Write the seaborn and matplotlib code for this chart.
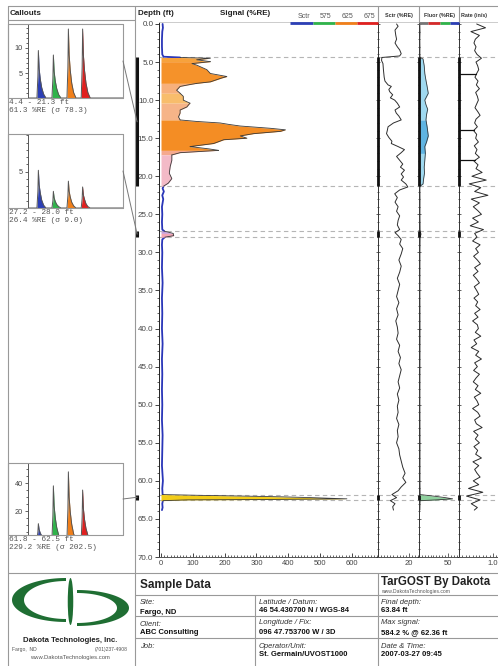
import numpy as np
import matplotlib
matplotlib.use("Agg")
import matplotlib.pyplot as plt
import seaborn as sns
from matplotlib.patches import Rectangle, Polygon, Ellipse, ConnectionPatch
from matplotlib.ticker import MultipleLocator, FixedLocator, FormatStrFormatter

# ---------------- data ----------------
main_depth = [0.0, 0.5, 1.0, 2.0, 3.0, 4.0, 4.3, 4.4, 4.5, 4.7,
              4.95, 5.2, 5.4, 5.7, 6.0, 6.5, 6.9, 7.1, 7.3, 7.6,
              7.8, 8.0, 8.2, 8.7, 9.1, 9.5, 10.0, 10.4, 10.9, 11.3,
              11.7, 12.2, 12.6, 12.8, 13.0, 13.2, 13.4, 13.7, 13.9, 14.1,
              14.4, 14.7, 15.0, 15.2, 15.5, 15.7, 16.1, 16.4, 16.6, 16.9,
              17.2, 17.9, 18.7, 19.6, 20.3, 20.9, 21.3, 21.6, 22.0, 22.5,
              23.0, 24.0, 25.0, 26.0, 27.0, 27.2, 27.5, 27.8, 28.0, 28.3,
              29.0, 30.0, 32.0, 34.0, 36.0, 38.0, 40.0, 42.0, 44.0, 46.0,
              48.0, 50.0, 52.0, 54.0, 56.0, 58.0, 60.0, 61.0, 61.8, 61.9,
              62.0, 62.1, 62.2, 62.36, 62.45, 62.5, 62.6, 63.0, 63.5, 63.84]
main_signal = [5, 6, 4, 3, 3, 4, 8, 60, 155, 112,
               155, 97, 112, 128, 144, 155, 207, 190, 176, 155,
               112, 85, 60, 49, 60, 70, 70, 91, 81, 60,
               60, 55, 60, 112, 186, 215, 249, 344, 391, 375,
               291, 249, 270, 197, 178, 165, 91, 150, 181, 60,
               34, 34, 29, 26, 34, 23, 8, 5, 9, 4,
               7, 3, 4, 3, 4, 10, 38, 40, 12, 4,
               3, 4, 3, 5, 3, 4, 3, 5, 3, 4,
               3, 4, 3, 5, 4, 3, 6, 4, 5, 120,
               260, 380, 470, 584, 320, 80, 6, 4, 5, 3]

sctr_depth = [0.0, 0.3, 0.8, 1.5, 2.0, 2.5, 3.0, 3.4, 3.9, 4.2,
              4.4, 4.8, 5.2, 6.0, 7.0, 7.5, 8.0, 8.2, 8.6, 8.9,
              9.3, 9.7, 10.0, 10.4, 10.9, 11.3, 11.7, 12.1, 12.6, 13.0,
              13.5, 14.0, 14.4, 14.9, 15.4, 15.7, 16.1, 16.5, 16.9, 17.4,
              17.9, 18.4, 18.8, 19.2, 19.7, 20.1, 20.5, 21.0, 21.4, 21.8,
              22.3, 22.8, 23.4, 24.0, 24.6, 25.2, 25.8, 26.4, 27.0, 27.4,
              27.8, 28.3, 28.9, 29.5, 30.2, 31.0, 31.8, 32.6, 33.4, 34.2,
              35.0, 35.8, 36.6, 37.4, 38.2, 39.0, 39.8, 40.6, 41.4, 42.2,
              43.0, 43.8, 44.6, 45.4, 46.2, 47.0, 47.8, 48.6, 49.4, 50.2,
              51.0, 51.8, 52.6, 53.4, 54.2, 55.0, 55.8, 56.6, 57.4, 58.2,
              59.0, 59.6, 60.2, 60.8, 61.3, 61.8, 62.2, 62.6, 63.0, 63.4,
              63.84]
sctr_val = [12, 13, 11, 11.5, 12, 11, 12.5, 14, 15, 14,
            2.5, 2.3, 3.2, 3.5, 4.0, 4.5, 6.5, 8.6, 7.0, 7.6,
            9.5, 8.0, 10.8, 12.5, 14, 11, 11.8, 13.5, 15, 10,
            6.5, 6, 5.5, 7, 9, 8.6, 13, 17.1, 15, 12,
            14, 16, 14.5, 17.1, 15, 16.5, 15, 18, 19.3, 14,
            10.8, 12.5, 11, 13, 12, 14, 13, 12.5, 14, 11,
            13, 15, 14, 16, 15, 13.5, 15, 14, 12.5, 14,
            13, 12, 13.5, 12, 13, 11.5, 12.5, 13, 12, 14,
            13, 14.5, 13.5, 15, 14, 13, 14, 12.5, 13.5, 12.5,
            13, 12, 13.5, 12.5, 13, 12, 13.5, 14, 15, 16,
            17.5, 16, 18, 15, 13, 9, 12, 8, 11, 9.5,
            10]

fluor_depth = [0.0, 1.0, 2.0, 3.0, 4.0, 4.4, 4.6, 5.5, 6.5, 7.4,
               8.2, 9.1, 10.0, 10.6, 11.2, 11.9, 12.6, 13.5, 14.7, 15.5,
               16.1, 17.0, 17.9, 18.8, 19.6, 20.3, 21.0, 21.3, 21.6, 23.0,
               25.0, 27.2, 27.6, 28.0, 30.0, 35.0, 40.0, 45.0, 50.0, 55.0,
               60.0, 61.8, 62.0, 62.2, 62.36, 62.5, 62.6, 63.0, 63.84]
fluor_val = [1.5, 1.8, 1.5, 1.7, 1.6, 2.0, 7, 9, 10, 12,
             14, 16, 10, 12, 15, 13, 12, 14, 16, 13,
             10, 11, 10, 9, 9.5, 8, 7, 2.0, 1.6, 1.8,
             1.7, 2.0, 3.5, 2.0, 1.7, 1.6, 1.8, 1.7, 1.6, 1.8,
             1.7, 2.0, 25, 45, 58, 30, 2.0, 1.8, 1.6]

rate_depth = np.append(np.arange(0, 64, 0.5), 63.84)
rate_val = [0.52, 0.78, 0.35, 0.60, 0.48, 0.44, 0.50, 0.46, 0.53, 0.66,
            0.50, 0.55, 0.58, 0.52, 0.47, 0.56, 0.51, 0.60, 0.49, 0.54,
            0.57, 0.52, 0.47, 0.55, 0.62, 0.50, 0.46, 0.54, 0.43, 0.52,
            0.49, 0.57, 0.45, 0.53, 0.48, 0.60, 0.44, 0.56, 0.50, 0.68,
            0.38, 0.80, 0.30, 0.64, 0.46, 0.85, 0.36, 0.60, 0.42, 0.55,
            0.66, 0.40, 0.57, 0.33, 0.72, 0.46, 0.53, 0.40, 0.62, 0.49,
            0.57, 0.43, 0.54, 0.63, 0.46, 0.56, 0.42, 0.52, 0.60, 0.45,
            0.52, 0.58, 0.44, 0.55, 0.49, 0.62, 0.46, 0.56, 0.40, 0.54,
            0.57, 0.48, 0.64, 0.44, 0.52, 0.36, 0.58, 0.49, 0.66, 0.46,
            0.54, 0.43, 0.60, 0.50, 0.42, 0.56, 0.48, 0.64, 0.45, 0.53,
            0.58, 0.40, 0.55, 0.62, 0.46, 0.51, 0.68, 0.43, 0.56, 0.48,
            0.60, 0.44, 0.55, 0.49, 0.66, 0.41, 0.58, 0.46, 0.53, 0.62,
            0.42, 0.58, 0.28, 0.70, 0.22, 0.62, 0.36, 0.54,
            0.45]
rate_rod_depths = [6.6, 13.9, 17.9]

callout_ranges = [(4.4, 21.3), (27.2, 28.0), (61.8, 62.5)]
callout_mean = [61.3, 26.4, 229.2]
callout_sd = [78.3, 9.0, 202.5]

wave_t = [0,
          9.4, 10.4, 10.9, 11.7, 12.9, 14.4, 16.4, 18.9,
          25.2, 26.2, 26.7, 27.5, 28.7, 30.2, 32.2, 34.7,
          41.0, 42.0, 42.5, 43.3, 44.5, 46.0, 48.0, 50.5,
          56.0, 57.0, 57.5, 58.3, 59.5, 61.0, 63.0, 65.5,
          100]
callout1_amp = [0,
                0, 4.3, 9.5, 5.9, 3.8, 2.1, 0.8, 0,
                0, 3.9, 8.6, 5.3, 3.4, 1.9, 0.7, 0,
                0, 6.2, 13.8, 8.6, 5.5, 3.0, 1.1, 0,
                0, 6.2, 13.8, 8.6, 5.5, 3.0, 1.1, 0,
                0]
callout2_amp = [0,
                0, 2.3, 5.2, 3.2, 2.1, 1.1, 0.4, 0,
                0, 1.0, 2.3, 1.4, 0.9, 0.5, 0.2, 0,
                0, 1.7, 3.7, 2.3, 1.5, 0.8, 0.3, 0,
                0, 1.3, 2.9, 1.8, 1.2, 0.6, 0.2, 0,
                0]
callout3_amp = [0,
                0, 5.0, 11, 6.8, 4.4, 2.4, 0.9, 0,
                0, 17, 38, 23.6, 15.2, 8.4, 3.0, 0,
                0, 21.6, 48, 29.8, 19.2, 10.6, 3.8, 0,
                0, 15.8, 35, 21.7, 14, 7.7, 2.8, 0,
                0]

main_xticks = [0, 100, 200, 300, 400, 500, 600]
legend_labels = ["Sctr", "575", "625", "675"]

# ---------------- styling ----------------
sns.set_theme(style="white")
plt.rcParams['font.family'] = ['Liberation Sans', 'DejaVu Sans']
plt.rcParams['axes.linewidth'] = 0.7

W, H = 498, 666
fig = plt.figure(figsize=(W / 100, H / 100), dpi=100, facecolor='white')


def ax_px(x0, y0, x1, y1, z=2):
    a = fig.add_axes([x0 / W, 1 - y1 / H, (x1 - x0) / W, (y1 - y0) / H], zorder=z)
    a.set_facecolor('none')
    return a


BLUE = '#2a36b8'
CH_COLORS = ['#2c3fb5', '#2fb34a', '#f07f1a', '#e0201f']
TOP, BOT = 22, 557
YLIM = (70, -0.26)
GRID = '#b5b5b5'

# ---------------- main signal track ----------------
ax = ax_px(159, TOP, 378, BOT)
d = np.array(main_depth, dtype=float)
s = np.array(main_signal, dtype=float)

interior = np.zeros(len(d), dtype=bool)
for a0, b0 in [(4.4, 21.3), (27.2, 28.0), (61.8, 62.6)]:
    interior |= (d > a0) & (d < b0)
idx = np.where(~interior)[0]
runs = np.split(idx, np.where(np.diff(idx) != 1)[0] + 1)
for r in runs:
    if len(r) > 1:
        sns.lineplot(x=s[r], y=d[r], orient='y', sort=False, estimator=None,
                     color=BLUE, lw=1.3, ax=ax, zorder=2)

bands = [(4.4, 4.95, '#f7a23c'), (4.95, 7.8, '#f5922a'), (7.8, 9.1, '#f7b07c'),
         (9.1, 10.4, '#f8bd6c'), (10.4, 12.6, '#f6b488'), (12.6, 16.6, '#f48d24'),
         (16.6, 17.2, '#f5a98e'), (17.2, 21.3, '#f3bac7'), (27.2, 27.5, '#c7a0d9'),
         (27.5, 28.0, '#f2a6b6'), (61.8, 62.6, '#f2cc18')]
for d0, d1, c in bands:
    m = (d >= d0) & (d <= d1)
    ax.fill_betweenx(d[m], 0, s[m], color=c, lw=0, zorder=3)
    sns.lineplot(x=s[m], y=d[m], orient='y', sort=False, estimator=None,
                 color='#3a3a3a', lw=0.6, ax=ax, zorder=4)
ax.set_xlim(-6.3, 681.7)
ax.set_ylim(*YLIM)
ax.set_xlabel('')
ax.set_ylabel('')
ax.yaxis.set_major_locator(MultipleLocator(5))
ax.yaxis.set_minor_locator(MultipleLocator(1))
ax.yaxis.set_major_formatter(FormatStrFormatter('%.1f'))
ax.tick_params(axis='y', which='major', left=True, length=3, width=0.6,
               labelsize=5.8, labelcolor='#444', pad=1)
ax.tick_params(axis='y', which='minor', left=True, length=1.5, width=0.5)
ax.xaxis.set_major_locator(FixedLocator(main_xticks))
ax.xaxis.set_minor_locator(MultipleLocator(10))
ax.tick_params(axis='x', which='major', bottom=True, direction='in', length=3,
               width=0.6, labelsize=5.5, labelcolor='#444', pad=2)
ax.tick_params(axis='x', which='minor', bottom=True, direction='in', length=1.5, width=0.5)
ax.spines['left'].set_color('#222')
ax.spines['bottom'].set_color('#555')
ax.spines['top'].set_color('#cccccc')
ax.spines['right'].set_visible(False)

# ---------------- side tracks ----------------
ax_s = ax_px(378, TOP, 419, BOT)
ax_f = ax_px(419, TOP, 459, BOT)
ax_r = ax_px(459, TOP, 510, BOT)

sns.lineplot(x=sctr_val, y=sctr_depth, orient='y', sort=False, estimator=None,
             color='#2e2e2e', lw=0.7, ax=ax_s, zorder=3)
ax_s.set_xlim(0, 26.5)

fd = np.array(fluor_depth, dtype=float)
fv = np.array(fluor_val, dtype=float)
fbands = [(4.4, 12.6, '#9fd9f0'), (12.6, 17.0, '#5fb4e2'), (17.0, 21.3, '#9fd9f0'),
          (61.8, 62.6, '#8fd19e')]
for d0, d1, c in fbands:
    m = (fd >= d0) & (fd <= d1)
    ax_f.fill_betweenx(fd[m], 0, fv[m], color=c, lw=0, zorder=2)
sns.lineplot(x=fv, y=fd, orient='y', sort=False, estimator=None,
             color='#3a3a3a', lw=0.6, ax=ax_f, zorder=3)
ax_f.set_xlim(0, 69)

rv = np.array(rate_val, dtype=float)
sns.lineplot(x=rv, y=rate_depth, orient='y', sort=False, estimator=None,
             color='#2a2a2a', lw=0.7, ax=ax_r, zorder=3)
for rd in rate_rod_depths:
    ax_r.plot([0, np.interp(rd, rate_depth, rv)], [rd, rd], color='#111', lw=0.9, zorder=3)
ax_r.set_xlim(0, 1.5)

for axx, tick, minor, lab in ((ax_s, 20, 2, '20'), (ax_f, 50, 5, '50'), (ax_r, 1.0, 0.1, '1.0')):
    axx.set_ylim(*YLIM)
    axx.set_xlabel('')
    axx.set_ylabel('')
    axx.yaxis.set_major_locator(MultipleLocator(5))
    axx.yaxis.set_minor_locator(MultipleLocator(1))
    axx.tick_params(axis='y', which='major', left=True, direction='inout', length=3,
                    width=0.5, labelleft=False)
    axx.tick_params(axis='y', which='minor', left=True, direction='inout', length=2,
                    width=0.5)
    axx.set_xticks([tick])
    axx.set_xticklabels([lab])
    axx.xaxis.set_minor_locator(MultipleLocator(minor))
    axx.tick_params(axis='x', which='major', bottom=True, direction='in', length=3,
                    width=0.5, labelsize=5.5, labelcolor='#444', pad=2)
    axx.tick_params(axis='x', which='minor', bottom=True, direction='in', length=1.5,
                    width=0.5)
    axx.spines['left'].set_color('#333')
    axx.spines['bottom'].set_color('#555')
    axx.spines['top'].set_color('#cccccc')
    axx.spines['right'].set_visible(False)

# dashed range lines and range markers
for a, b in callout_ranges:
    for dd in (a, b):
        for axx in (ax, ax_s, ax_f, ax_r):
            axx.axhline(dd, color=GRID, lw=0.8, ls=(0, (4, 3)), zorder=1)
    ax.plot([-75, -75], [a, b], color='#111', lw=2.2, clip_on=False,
            solid_capstyle='butt', zorder=5)
    for axx in (ax_s, ax_f, ax_r):
        axx.plot([0, 0], [a, b], color='#111', lw=2.0, clip_on=False,
                 solid_capstyle='butt', zorder=5)

# ---------------- callouts ----------------
ov = fig.add_axes([0, 0, 1, 1], zorder=20)
ov.set_xlim(0, W)
ov.set_ylim(H, 0)
ov.axis('off')
ov.patch.set_visible(False)

box_px = [(24, 98), (134, 208), (463, 535)]
c_ylims = [(0, 14.8), (0, 10.2), (2.9, 54.3)]
c_ticks = [[5, 10], [5], [20, 40]]
c_minor = [1, 1, 5]
amps = [callout1_amp, callout2_amp, callout3_amp]
chan = [(0, 20), (20, 36), (36, 52), (52, 100)]
t = np.array(wave_t, dtype=float)
for i in range(3):
    t0, t1 = box_px[i]
    ca = ax_px(28, t0, 123, t1)
    amp = np.array(amps[i], dtype=float)
    for (lo, hi), c in zip(chan, CH_COLORS):
        m = (t >= lo) & (t <= hi)
        ca.fill_between(t[m], 0, amp[m], color=c, lw=0)
    sns.lineplot(x=t, y=amp, sort=False, estimator=None, color='#555555', lw=0.7, ax=ca)
    ca.set_xlim(0, 100)
    ca.set_ylim(*c_ylims[i])
    ca.set_xlabel('')
    ca.set_ylabel('')
    ca.set_xticks([])
    ca.set_yticks(c_ticks[i])
    ca.yaxis.set_minor_locator(MultipleLocator(c_minor[i]))
    ca.tick_params(axis='y', which='major', left=True, length=2.5, width=0.5,
                   labelsize=5.3, labelcolor='#444', pad=1)
    ca.tick_params(axis='y', which='minor', left=True, length=1.3, width=0.5)
    ca.spines['left'].set_color('#555')
    for sp in ('top', 'right', 'bottom'):
        ca.spines[sp].set_color('#999')
    ov.add_patch(Rectangle((8, t0), 115, t1 - t0, fc='none', ec='#999', lw=0.8))
    a, b = callout_ranges[i]
    ov.text(9, t1 + 4.5, f"{a:.1f} - {b:.1f} ft", family='Liberation Mono',
            fontsize=5.6, color='#555', va='center')
    ov.text(9, t1 + 12.5, f"{callout_mean[i]:.1f} %RE (\u03c3 {callout_sd[i]:.1f})",
            family='Liberation Mono', fontsize=5.6, color='#555', va='center')
    con = ConnectionPatch(xyA=(123, (t0 + t1) / 2), coordsA=ov.transData,
                          xyB=(-75, (a + b) / 2), coordsB=ax.transData,
                          color='#777', lw=0.7, zorder=25)
    fig.add_artist(con)

# ---------------- frame & header ----------------
LC = '#999'
ov.plot([8, W], [6, 6], color=LC, lw=0.8)
ov.plot([8, 8], [6, H], color=LC, lw=0.8)
ov.plot([135, 135], [6, H], color=LC, lw=0.8)
ov.plot([8, 135], [20, 20], color=LC, lw=0.8)
for xx in (378, 419, 459):
    ov.plot([xx, xx], [6, TOP], color=LC, lw=0.8)

ov.text(10, 13.5, "Callouts", fontsize=5.8, fontweight='bold', color='#222', va='center')
ov.text(138, 13.5, "Depth (ft)", fontsize=5.8, fontweight='bold', color='#222', va='center')
ov.text(220, 13.5, "Signal (%RE)", fontsize=5.8, fontweight='bold', color='#222', va='center')
leg_x = [(290, 313), (313, 335), (335, 357), (357, 378)]
for (x0, x1), lab, c in zip(leg_x, legend_labels, CH_COLORS):
    ov.plot([x0, x1], [23.3, 23.3], color=c, lw=2.0, solid_capstyle='butt')
    ov.text((x0 + x1) / 2 + 2, 16.5, lab, fontsize=5, color='#555', ha='center', va='center')
ov.text(398.5, 15, "Sctr (%RE)", fontsize=3.9, fontweight='bold', color='#333', ha='center', va='center')
ov.text(439, 15, "Fluor (%RE)", fontsize=3.9, fontweight='bold', color='#333', ha='center', va='center')
ov.text(461, 15, "Rate (in/s)", fontsize=3.9, fontweight='bold', color='#333', ha='left', va='center')
for (x0, x1), c in zip([(419, 428), (428, 440), (440, 450), (450, 459)],
                       ['#777777', '#d42a2a', '#2fb34a', '#2c3fb5']):
    ov.plot([x0, x1], [23.3, 23.3], color=c, lw=2.0, solid_capstyle='butt')

# ---------------- bottom table ----------------
ov.plot([8, W], [573, 573], color=LC, lw=0.8)
ov.plot([378, 378], [573, H], color=LC, lw=0.8)
ov.plot([255, 255], [595, H], color=LC, lw=0.8)
for yy in (595, 616, 638):
    ov.plot([135, W], [yy, yy], color=LC, lw=0.8)

ov.text(140, 585, "Sample Data", fontsize=8.5, fontweight='bold', color='#222', va='center')
ov.text(381, 582, "TarGOST By Dakota", fontsize=8.3, fontweight='bold', color='#222', va='center')
ov.text(381, 591.5, "www.DakotaTechnologies.com", fontsize=3.6, color='#555', va='center')

cells = [(140, 602, 612, "Site:", "Fargo, ND"),
         (140, 624, 633, "Client:", "ABC Consulting"),
         (140, 646, 655, "Job:", ""),
         (259, 602, 611, "Latitude / Datum:", "46 54.430700 N / WGS-84"),
         (259, 623, 633, "Longitude / Fix:", "096 47.753700 W / 3D"),
         (259, 646, 655, "Operator/Unit:", "St. Germain/UVOST1000"),
         (381, 602, 611, "Final depth:", "63.84 ft"),
         (381, 623, 633, "Max signal:", "584.2 % @ 62.36 ft"),
         (381, 646, 655, "Date & Time:", "2007-03-27 09:45")]
for x, y1, y2, lab, val in cells:
    ov.text(x, y1, lab, fontsize=5.5, style='italic', color='#333', va='center')
    if val:
        ov.text(x, y2, val, fontsize=5.5, fontweight='bold', color='#111', va='center')

# ---------------- logo ----------------
GREEN = '#1f6e33'


def crescent(cx, cy, rxo, ryo, rxi, ryi, left):
    tt = np.linspace(np.pi / 2, 3 * np.pi / 2, 80) if left else np.linspace(np.pi / 2, -np.pi / 2, 80)
    outer = np.c_[cx + rxo * np.cos(tt), cy - ryo * np.sin(tt)]
    inner = np.c_[cx + rxi * np.cos(tt[::-1]), cy - ryi * np.sin(tt[::-1])]
    return Polygon(np.vstack([outer, inner]), closed=True, fc=GREEN, ec='none')


ov.add_patch(crescent(66, 600, 54, 22, 42, 19, True))
ov.add_patch(crescent(77, 608, 52, 18, 40, 15, False))
ov.add_patch(Ellipse((70.5, 601.5), 5.5, 47, fc=GREEN, ec='none'))
ov.text(70, 641, "Dakota Technologies, Inc.", fontsize=5.6, fontweight='bold',
        color='#222', ha='center', va='center')
ov.text(12, 650, "Fargo,  ND", fontsize=3.6, color='#555', va='center')
ov.text(128, 650, "(701)237-4908", fontsize=3.6, color='#555', ha='right', va='center')
ov.text(70, 657, "www.DakotaTechnologies.com", fontsize=4.2, color='#555',
        ha='center', va='center')

fig.savefig("out.png", dpi=100, facecolor='white')
